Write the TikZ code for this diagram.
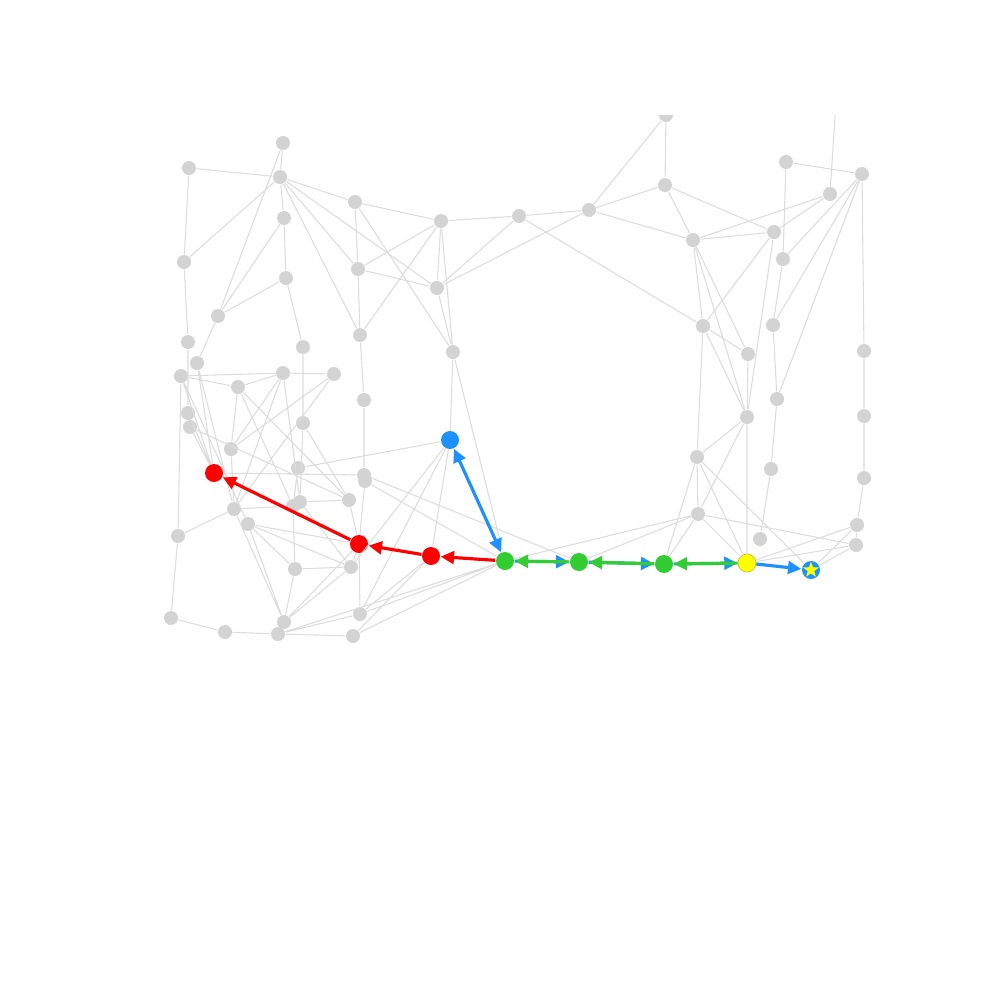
\documentclass[tikz,border=0pt]{standalone}
\usetikzlibrary{arrows.meta,shapes.geometric}
\definecolor{vgray}{RGB}{211,211,211}
\definecolor{egray}{RGB}{220,220,220}
\definecolor{pathred}{RGB}{255,0,0}
\definecolor{pathblue}{RGB}{30,144,255}
\definecolor{pathgreen}{RGB}{50,205,50}
\definecolor{pathyellow}{RGB}{255,255,0}
\begin{document}
\begin{tikzpicture}[
  x=0.01cm, y=-0.01cm,
  >={Triangle[length=3.8pt,width=3.6pt]},
  v/.style={circle, fill=vgray, inner sep=0pt, minimum size=0.14cm},
  hv/.style={circle, inner sep=0pt, minimum size=0.18cm},
  e/.style={draw=egray, line width=0.3pt},
  redarr/.style={draw=pathred, line width=0.9pt, ->},
  bluearr/.style={draw=pathblue, line width=0.9pt, ->},
  greenarr/.style={draw=pathgreen, line width=0.9pt, ->}
]
\useasboundingbox (0,0) rectangle (1000,1000);
\begin{scope}
\clip (0,115) rectangle (1000,1000);

% left block
\node[v] (v1) at (283,143) {};
\node[v] (v2) at (189,168) {};
\node[v] (v3) at (280,177) {};
\node[v] (v4) at (284,218) {};
\node[v] (v5) at (184,262) {};
\node[v] (v6) at (286,278) {};
\node[v] (v7) at (218,316) {};
\node[v] (v8) at (188,342) {};
\node[v] (v9) at (197,363) {};
\node[v] (v10) at (181,376) {};
\node[v] (v11) at (238,387) {};
\node[v] (v12) at (283,373) {};
\node[v] (v13) at (334,374) {};
\node[v] (v14) at (303,347) {};
\node[v] (v15) at (188,413) {};
\node[v] (v16) at (190,427) {};
\node[v] (v17) at (303,423) {};
\node[v] (v18) at (231,449) {};
\node[v] (v19) at (298,468) {};
\node[hv, fill=pathred] (v20) at (214,473) {};
\node[v] (v21) at (234,509) {};
\node[v] (v22) at (293,506) {};
\node[v] (v74) at (300,502) {};
\node[v] (v23) at (349,500) {};
\node[v] (v24) at (248,524) {};
\node[v] (v25) at (178,536) {};
\node[v] (v26) at (295,569) {};
\node[v] (v27) at (351,567) {};
\node[hv, fill=pathred] (v28) at (359,544) {};
\node[v] (v29) at (284,622) {};
\node[v] (v30) at (171,618) {};
\node[v] (v31) at (225,632) {};
\node[v] (v32) at (278,634) {};
\node[v] (v33) at (353,636) {};
\node[v] (v34) at (360,614) {};
\node[v] (v35) at (364,475) {};
\node[v] (v75) at (365,481) {};
\node[v] (v36) at (364,400) {};
\node[v] (v37) at (360,335) {};
\node[v] (v38) at (358,269) {};
\node[v] (v39) at (355,202) {};

% middle
\node[v] (v40) at (441,221) {};
\node[v] (v41) at (437,288) {};
\node[v] (v42) at (453,352) {};
\node[hv, fill=pathblue] (v43) at (450,440) {};
\node[hv, fill=pathred] (v44) at (431,556) {};
\node[hv, fill=pathgreen] (v45) at (505,561) {};
\node[v] (v46) at (519,216) {};
\node[v] (v47) at (589,210) {};
\node[v] (v48) at (665,185) {};
\node[v] (v49) at (666,115) {};
\node[hv, fill=pathgreen] (v51) at (579,562) {};
\node[hv, fill=pathgreen] (v52) at (664,564) {};

% right block
\node[v] (v50) at (693,240) {};
\node[hv, fill=pathyellow, draw=yellow!75!black, line width=0.2pt] (v53) at (747,563) {};
\node[hv, fill=pathblue] (v54) at (811,570) {};
\node[star, star points=5, star point ratio=2.4, fill=pathyellow, inner sep=0pt, minimum size=0.165cm] at (v54) {};
\node[v] (v55) at (703,326) {};
\node[v] (v56) at (748,354) {};
\node[v] (v57) at (747,417) {};
\node[v] (v58) at (697,457) {};
\node[v] (v59) at (698,514) {};
\node[v] (v60) at (786,162) {};
\node[v] (v61) at (830,194) {};
\node[v] (v62) at (862,174) {};
\node[v] (v63) at (774,232) {};
\node[v] (v64) at (783,259) {};
\node[v] (v65) at (773,325) {};
\node[v] (v66) at (777,399) {};
\node[v] (v67) at (771,469) {};
\node[v] (v68) at (760,539) {};
\node[v] (v69) at (864,351) {};
\node[v] (v70) at (864,416) {};
\node[v] (v71) at (864,478) {};
\node[v] (v72) at (857,525) {};
\node[v] (v73) at (856,545) {};
\coordinate (v76) at (838,70);

% gray edges
\draw[e] (v1)--(v3) (v1)--(v7) (v2)--(v3) (v2)--(v5) (v3)--(v4) (v3)--(v5)
  (v3)--(v39) (v3)--(v38) (v3)--(v41) (v3)--(v37) (v4)--(v6) (v4)--(v7)
  (v6)--(v7) (v6)--(v14) (v5)--(v8) (v7)--(v9) (v8)--(v15);
\draw[e] (v9)--(v20) (v9)--(v21) (v10)--(v12) (v10)--(v11) (v10)--(v20)
  (v10)--(v25) (v10)--(v24) (v11)--(v12) (v11)--(v18) (v11)--(v22)
  (v11)--(v23) (v12)--(v13) (v12)--(v18) (v12)--(v21) (v12)--(v74)
  (v13)--(v18) (v13)--(v21) (v14)--(v17) (v15)--(v20) (v16)--(v20)
  (v16)--(v23) (v17)--(v74) (v17)--(v23) (v18)--(v21) (v19)--(v43)
  (v19)--(v22) (v20)--(v35);
\draw[e] (v21)--(v22) (v21)--(v25) (v21)--(v29) (v24)--(v29) (v24)--(v26)
  (v24)--(v27) (v24)--(v28) (v25)--(v30) (v26)--(v27) (v26)--(v29)
  (v26)--(v22) (v27)--(v29) (v27)--(v28) (v74)--(v27) (v74)--(v23)
  (v23)--(v28) (v28)--(v34) (v28)--(v75) (v28)--(v29) (v30)--(v31)
  (v31)--(v32) (v32)--(v33) (v32)--(v34) (v32)--(v45) (v34)--(v44)
  (v34)--(v45) (v33)--(v44) (v33)--(v45) (v35)--(v36) (v36)--(v37)
  (v35)--(v51) (v75)--(v45);
\draw[e] (v43)--(v42) (v43)--(v44) (v43)--(v27) (v43)--(v34) (v42)--(v45)
  (v42)--(v40) (v42)--(v41) (v42)--(v39) (v45)--(v59) (v51)--(v59)
  (v37)--(v38) (v38)--(v39) (v37)--(v40) (v38)--(v40) (v39)--(v40)
  (v38)--(v41) (v40)--(v41) (v40)--(v46) (v41)--(v46) (v41)--(v47)
  (v46)--(v47) (v46)--(v55) (v47)--(v48) (v47)--(v49) (v47)--(v50)
  (v48)--(v49) (v48)--(v50) (v48)--(v63);
\draw[e] (v50)--(v63) (v50)--(v61) (v50)--(v55) (v50)--(v56) (v50)--(v57)
  (v55)--(v56) (v55)--(v57) (v55)--(v63) (v55)--(v58) (v56)--(v57)
  (v63)--(v57) (v57)--(v58) (v57)--(v59) (v57)--(v53) (v58)--(v59)
  (v58)--(v53) (v58)--(v54) (v58)--(v52) (v59)--(v52) (v59)--(v53)
  (v59)--(v73) (v60)--(v64) (v60)--(v62) (v61)--(v63) (v61)--(v76)
  (v62)--(v64) (v62)--(v65) (v62)--(v66) (v62)--(v69) (v64)--(v65)
  (v65)--(v66) (v66)--(v67) (v67)--(v68) (v69)--(v70) (v70)--(v71)
  (v71)--(v72) (v72)--(v73) (v53)--(v72) (v53)--(v73) (v54)--(v72)
  (v54)--(v73);

% path arrows
\draw[bluearr, <->] (v45) -- (v43);
\draw[bluearr] (v45) -- (v51);
\draw[bluearr] (v51) -- (v52);
\draw[bluearr] (v52) -- (v53);
\draw[bluearr] (v53) -- (v54);
\draw[greenarr] (v51) -- (v45);
\draw[greenarr] (v52) -- (v51);
\draw[greenarr] (v53) -- (v52);
\draw[redarr] (v45) -- (v44);
\draw[redarr] (v44) -- (v28);
\draw[redarr] (v28) -- (v20);
\end{scope}
\end{tikzpicture}
\end{document}
